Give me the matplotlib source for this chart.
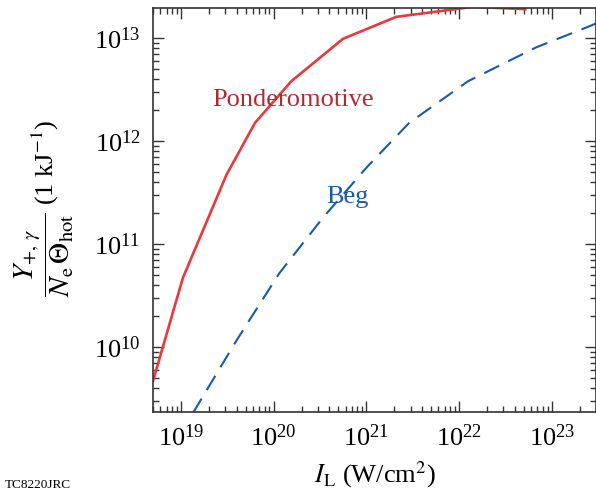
import matplotlib
matplotlib.use("Agg")
import matplotlib.pyplot as plt
from matplotlib.ticker import LogLocator, NullFormatter, LogFormatterMathtext

plt.rcParams['font.family'] = ['Liberation Serif', 'DejaVu Serif']
plt.rcParams['mathtext.fontset'] = 'stix'

# Data
pond_I = [5.0e18, 1.05e19, 3.1e19, 6.3e19, 1.55e20, 5.6e20, 2.1e21, 1.4e22, 5.2e22]
pond_Y = [4.7e9, 4.7e10, 4.7e11, 1.5e12, 3.8e12, 9.8e12, 1.6e13, 2.0e13, 1.9e13]
beg_I = [1.35e19, 4.0e19, 1.15e20, 3.4e20, 1.0e21, 2.9e21, 1.25e22, 6.8e22, 2.35e23, 3.0e23]
beg_Y = [2.3e9, 1.17e10, 5.2e10, 1.8e11, 5.5e11, 1.5e12, 3.8e12, 8.1e12, 1.26e13, 1.38e13]

xlim = (5.0e18, 3.0e23)
ylim = (2.35e9, 1.95e13)

W, H = 596, 500
fig = plt.figure(figsize=(W / 100, H / 100), dpi=100)
ax = fig.add_axes([0.2567, 0.176, 0.7433, 0.808])

ax.plot(pond_I, pond_Y, color='#e63a3f', lw=1.9, solid_joinstyle='miter')
ax.plot(beg_I, beg_Y, color='#1a5aa6', lw=1.5, dashes=(8, 4.8))

ax.set_xscale('log')
ax.set_yscale('log')
ax.set_xlim(*xlim)
ax.set_ylim(*ylim)

for axis in (ax.xaxis, ax.yaxis):
    axis.set_major_locator(LogLocator(base=10, numticks=20))
    axis.set_minor_locator(LogLocator(base=10, subs=range(2, 10), numticks=50))
    axis.set_minor_formatter(NullFormatter())
    axis.set_major_formatter(LogFormatterMathtext())

ax.tick_params(which='both', direction='in', top=True, right=True, width=1.0, color='#333333')
ax.tick_params(which='major', length=8, labelsize=19, pad=9)
ax.tick_params(which='minor', length=4.5)
for s in ax.spines.values():
    s.set_linewidth(1.2)
    s.set_color('#333333')

ax.set_xlabel(r'$I_\mathrm{L}$ (W/cm$^2$)', fontsize=19, labelpad=6)

# y-axis label: fraction plus unit, rotated
fig.text(44 / W, 1 - 255 / H, r'$\dfrac{Y_{+,\,\gamma}}{N_\mathrm{e}\,\Theta_\mathrm{hot}}$',
         fontsize=21, rotation=90, ha='center', va='center')
fig.text(45 / W, 1 - 162 / H, r'(1 kJ$^{-1}$)',
         fontsize=19, rotation=90, ha='center', va='center')

ax.text(2.15e19, 2.2e12, 'Ponderomotive', color='#b02a36', fontsize=19, ha='left', va='baseline')
ax.text(3.7e20, 2.5e11, 'Beg', color='#1a5aa6', fontsize=19, ha='left', va='baseline')

fig.text(0.008, 0.018, 'TC8220JRC', fontsize=9.5, ha='left', va='bottom')

fig.savefig('out.png', dpi=100)
